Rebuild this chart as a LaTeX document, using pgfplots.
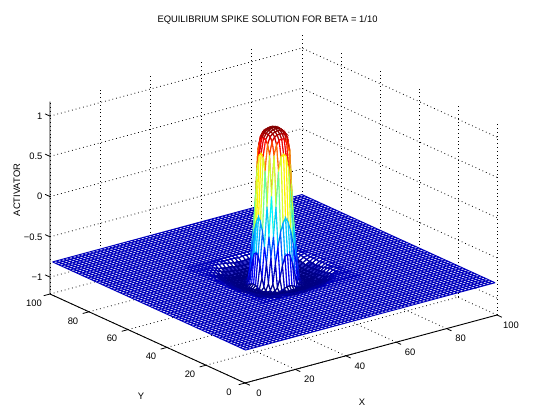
\documentclass[border=0pt]{standalone}
\usepackage{pgfplots}
\usepackage{pgfplotstable}
\pgfplotsset{compat=1.18}
\usepackage{fontspec}
\setmainfont{Liberation Sans}
\definecolor{planeblue}{rgb}{0,0,0.74}
\definecolor{dipfill}{rgb}{0.2,0.2,0.78}
\pgfplotstableread[header=false]{
70 70 -.82
68.5 70 -.82
67 70 -.82
65.5 70 -.82
64 70 -.82
62.5 70 -.82
61 70 -.82
59.5 70 -.82
58 70 -.82
56.5 70 -.82
55 70 -.82
53.5 70 -.82
52 70 -.82
50.5 70 -.82
49 70 -.82
47.5 70 -.82
46 70 -.82
44.5 70 -.82
43 70 -.82
41.5 70 -.82
40 70 -.82
38.5 70 -.82
37 70 -.82
35.5 70 -.82
34 70 -.82
32.5 70 -.82
31 70 -.82
70 68.5 -.82
68.5 68.5 -.82
67 68.5 -.82
65.5 68.5 -.82
64 68.5 -.82
62.5 68.5 -.82
61 68.5 -.82
59.5 68.5 -.82
58 68.5 -.82
56.5 68.5 -.83
55 68.5 -.83
53.5 68.5 -.83
52 68.5 -.83
50.5 68.5 -.84
49 68.5 -.83
47.5 68.5 -.83
46 68.5 -.83
44.5 68.5 -.83
43 68.5 -.82
41.5 68.5 -.82
40 68.5 -.82
38.5 68.5 -.82
37 68.5 -.82
35.5 68.5 -.82
34 68.5 -.82
32.5 68.5 -.82
31 68.5 -.82
70 67 -.82
68.5 67 -.82
67 67 -.82
65.5 67 -.82
64 67 -.82
62.5 67 -.82
61 67 -.82
59.5 67 -.83
58 67 -.83
56.5 67 -.84
55 67 -.85
53.5 67 -.86
52 67 -.86
50.5 67 -.87
49 67 -.86
47.5 67 -.86
46 67 -.85
44.5 67 -.84
43 67 -.83
41.5 67 -.83
40 67 -.82
38.5 67 -.82
37 67 -.82
35.5 67 -.82
34 67 -.82
32.5 67 -.82
31 67 -.82
70 65.5 -.82
68.5 65.5 -.82
67 65.5 -.82
65.5 65.5 -.82
64 65.5 -.82
62.5 65.5 -.83
61 65.5 -.85
59.5 65.5 -.86
58 65.5 -.87
56.5 65.5 -.87
55 65.5 -.88
53.5 65.5 -.89
52 65.5 -.89
50.5 65.5 -.90
49 65.5 -.89
47.5 65.5 -.89
46 65.5 -.88
44.5 65.5 -.87
43 65.5 -.87
41.5 65.5 -.86
40 65.5 -.85
38.5 65.5 -.83
37 65.5 -.82
35.5 65.5 -.82
34 65.5 -.82
32.5 65.5 -.82
31 65.5 -.82
70 64 -.82
68.5 64 -.82
67 64 -.82
65.5 64 -.82
64 64 -.83
62.5 64 -.85
61 64 -.87
59.5 64 -.89
58 64 -.90
56.5 64 -.90
55 64 -.91
53.5 64 -.92
52 64 -.92
50.5 64 -.92
49 64 -.92
47.5 64 -.92
46 64 -.91
44.5 64 -.90
43 64 -.90
41.5 64 -.89
40 64 -.87
38.5 64 -.85
37 64 -.83
35.5 64 -.82
34 64 -.82
32.5 64 -.82
31 64 -.82
70 62.5 -.82
68.5 62.5 -.82
67 62.5 -.82
65.5 62.5 -.83
64 62.5 -.85
62.5 62.5 -.88
61 62.5 -.90
59.5 62.5 -.92
58 62.5 -.93
56.5 62.5 -.92
55 62.5 -.93
53.5 62.5 -.93
52 62.5 -.93
50.5 62.5 -.93
49 62.5 -.93
47.5 62.5 -.93
46 62.5 -.93
44.5 62.5 -.92
43 62.5 -.93
41.5 62.5 -.92
40 62.5 -.90
38.5 62.5 -.88
37 62.5 -.85
35.5 62.5 -.83
34 62.5 -.82
32.5 62.5 -.82
31 62.5 -.82
70 61 -.82
68.5 61 -.82
67 61 -.83
65.5 61 -.85
64 61 -.87
62.5 61 -.90
61 61 -.92
59.5 61 -.93
58 61 -.93
56.5 61 -.93
55 61 -.94
53.5 61 -.94
52 61 -.94
50.5 61 -.94
49 61 -.94
47.5 61 -.94
46 61 -.94
44.5 61 -.93
43 61 -.93
41.5 61 -.93
40 61 -.92
38.5 61 -.90
37 61 -.87
35.5 61 -.85
34 61 -.83
32.5 61 -.82
31 61 -.82
70 59.5 -.82
68.5 59.5 -.82
67 59.5 -.83
65.5 59.5 -.86
64 59.5 -.89
62.5 59.5 -.92
61 59.5 -.93
59.5 59.5 -.93
58 59.5 -.93
56.5 59.5 -.94
55 59.5 -.94
53.5 59.5 -.94
52 59.5 -.94
50.5 59.5 -.94
49 59.5 -.94
47.5 59.5 -.94
46 59.5 -.94
44.5 59.5 -.94
43 59.5 -.93
41.5 59.5 -.93
40 59.5 -.93
38.5 59.5 -.92
37 59.5 -.89
35.5 59.5 -.86
34 59.5 -.83
32.5 59.5 -.82
31 59.5 -.82
70 58 -.82
68.5 58 -.82
67 58 -.83
65.5 58 -.87
64 58 -.90
62.5 58 -.93
61 58 -.93
59.5 58 -.93
58 58 -.94
56.5 58 -.94
55 58 -.94
53.5 58 -.94
52 58 -.94
50.5 58 -.94
49 58 -.94
47.5 58 -.94
46 58 -.94
44.5 58 -.94
43 58 -.94
41.5 58 -.93
40 58 -.93
38.5 58 -.93
37 58 -.90
35.5 58 -.87
34 58 -.83
32.5 58 -.82
31 58 -.82
70 56.5 -.82
68.5 56.5 -.83
67 56.5 -.84
65.5 56.5 -.87
64 56.5 -.90
62.5 56.5 -.92
61 56.5 -.93
59.5 56.5 -.94
58 56.5 -.94
56.5 56.5 -.94
55 56.5 -.94
53.5 56.5 -.94
52 56.5 -.94
50.5 56.5 -.94
49 56.5 -.94
47.5 56.5 -.94
46 56.5 -.94
44.5 56.5 -.94
43 56.5 -.94
41.5 56.5 -.94
40 56.5 -.93
38.5 56.5 -.92
37 56.5 -.90
35.5 56.5 -.87
34 56.5 -.84
32.5 56.5 -.83
31 56.5 -.82
70 55 -.82
68.5 55 -.83
67 55 -.85
65.5 55 -.88
64 55 -.91
62.5 55 -.93
61 55 -.94
59.5 55 -.94
58 55 -.94
56.5 55 -.94
55 55 -.94
53.5 55 -.94
52 55 -.94
50.5 55 -.94
49 55 -.94
47.5 55 -.94
46 55 -.94
44.5 55 -.94
43 55 -.94
41.5 55 -.94
40 55 -.94
38.5 55 -.93
37 55 -.91
35.5 55 -.88
34 55 -.85
32.5 55 -.83
31 55 -.82
70 53.5 -.82
68.5 53.5 -.83
67 53.5 -.86
65.5 53.5 -.89
64 53.5 -.92
62.5 53.5 -.93
61 53.5 -.94
59.5 53.5 -.94
58 53.5 -.94
56.5 53.5 -.94
55 53.5 -.94
53.5 53.5 -.94
52 53.5 -.94
50.5 53.5 -.94
49 53.5 -.94
47.5 53.5 -.94
46 53.5 -.94
44.5 53.5 -.94
43 53.5 -.94
41.5 53.5 -.94
40 53.5 -.94
38.5 53.5 -.93
37 53.5 -.92
35.5 53.5 -.89
34 53.5 -.86
32.5 53.5 -.83
31 53.5 -.82
70 52 -.82
68.5 52 -.83
67 52 -.86
65.5 52 -.89
64 52 -.92
62.5 52 -.93
61 52 -.94
59.5 52 -.94
58 52 -.94
56.5 52 -.94
55 52 -.94
53.5 52 -.94
52 52 -.94
50.5 52 -.94
49 52 -.94
47.5 52 -.94
46 52 -.94
44.5 52 -.94
43 52 -.94
41.5 52 -.94
40 52 -.94
38.5 52 -.93
37 52 -.92
35.5 52 -.89
34 52 -.86
32.5 52 -.83
31 52 -.82
70 50.5 -.82
68.5 50.5 -.84
67 50.5 -.87
65.5 50.5 -.90
64 50.5 -.92
62.5 50.5 -.93
61 50.5 -.94
59.5 50.5 -.94
58 50.5 -.94
56.5 50.5 -.94
55 50.5 -.94
53.5 50.5 -.94
52 50.5 -.94
50.5 50.5 -.94
49 50.5 -.94
47.5 50.5 -.94
46 50.5 -.94
44.5 50.5 -.94
43 50.5 -.94
41.5 50.5 -.94
40 50.5 -.94
38.5 50.5 -.93
37 50.5 -.92
35.5 50.5 -.90
34 50.5 -.87
32.5 50.5 -.84
31 50.5 -.82
70 49 -.82
68.5 49 -.83
67 49 -.86
65.5 49 -.89
64 49 -.92
62.5 49 -.93
61 49 -.94
59.5 49 -.94
58 49 -.94
56.5 49 -.94
55 49 -.94
53.5 49 -.94
52 49 -.94
50.5 49 -.94
49 49 -.94
47.5 49 -.94
46 49 -.94
44.5 49 -.94
43 49 -.94
41.5 49 -.94
40 49 -.94
38.5 49 -.93
37 49 -.92
35.5 49 -.89
34 49 -.86
32.5 49 -.83
31 49 -.82
70 47.5 -.82
68.5 47.5 -.83
67 47.5 -.86
65.5 47.5 -.89
64 47.5 -.92
62.5 47.5 -.93
61 47.5 -.94
59.5 47.5 -.94
58 47.5 -.94
56.5 47.5 -.94
55 47.5 -.94
53.5 47.5 -.94
52 47.5 -.94
50.5 47.5 -.94
49 47.5 -.94
47.5 47.5 -.94
46 47.5 -.94
44.5 47.5 -.94
43 47.5 -.94
41.5 47.5 -.94
40 47.5 -.94
38.5 47.5 -.93
37 47.5 -.92
35.5 47.5 -.89
34 47.5 -.86
32.5 47.5 -.83
31 47.5 -.82
70 46 -.82
68.5 46 -.83
67 46 -.85
65.5 46 -.88
64 46 -.91
62.5 46 -.93
61 46 -.94
59.5 46 -.94
58 46 -.94
56.5 46 -.94
55 46 -.94
53.5 46 -.94
52 46 -.94
50.5 46 -.94
49 46 -.94
47.5 46 -.94
46 46 -.94
44.5 46 -.94
43 46 -.94
41.5 46 -.94
40 46 -.94
38.5 46 -.93
37 46 -.91
35.5 46 -.88
34 46 -.85
32.5 46 -.83
31 46 -.82
70 44.5 -.82
68.5 44.5 -.83
67 44.5 -.84
65.5 44.5 -.87
64 44.5 -.90
62.5 44.5 -.92
61 44.5 -.93
59.5 44.5 -.94
58 44.5 -.94
56.5 44.5 -.94
55 44.5 -.94
53.5 44.5 -.94
52 44.5 -.94
50.5 44.5 -.94
49 44.5 -.94
47.5 44.5 -.94
46 44.5 -.94
44.5 44.5 -.94
43 44.5 -.94
41.5 44.5 -.94
40 44.5 -.93
38.5 44.5 -.92
37 44.5 -.90
35.5 44.5 -.87
34 44.5 -.84
32.5 44.5 -.83
31 44.5 -.82
70 43 -.82
68.5 43 -.82
67 43 -.83
65.5 43 -.87
64 43 -.90
62.5 43 -.93
61 43 -.93
59.5 43 -.93
58 43 -.94
56.5 43 -.94
55 43 -.94
53.5 43 -.94
52 43 -.94
50.5 43 -.94
49 43 -.94
47.5 43 -.94
46 43 -.94
44.5 43 -.94
43 43 -.94
41.5 43 -.93
40 43 -.93
38.5 43 -.93
37 43 -.90
35.5 43 -.87
34 43 -.83
32.5 43 -.82
31 43 -.82
70 41.5 -.82
68.5 41.5 -.82
67 41.5 -.83
65.5 41.5 -.86
64 41.5 -.89
62.5 41.5 -.92
61 41.5 -.93
59.5 41.5 -.93
58 41.5 -.93
56.5 41.5 -.94
55 41.5 -.94
53.5 41.5 -.94
52 41.5 -.94
50.5 41.5 -.94
49 41.5 -.94
47.5 41.5 -.94
46 41.5 -.94
44.5 41.5 -.94
43 41.5 -.93
41.5 41.5 -.93
40 41.5 -.93
38.5 41.5 -.92
37 41.5 -.89
35.5 41.5 -.86
34 41.5 -.83
32.5 41.5 -.82
31 41.5 -.82
70 40 -.82
68.5 40 -.82
67 40 -.83
65.5 40 -.85
64 40 -.87
62.5 40 -.90
61 40 -.92
59.5 40 -.93
58 40 -.93
56.5 40 -.93
55 40 -.94
53.5 40 -.94
52 40 -.94
50.5 40 -.94
49 40 -.94
47.5 40 -.94
46 40 -.94
44.5 40 -.93
43 40 -.93
41.5 40 -.93
40 40 -.92
38.5 40 -.90
37 40 -.87
35.5 40 -.85
34 40 -.83
32.5 40 -.82
31 40 -.82
70 38.5 -.82
68.5 38.5 -.82
67 38.5 -.82
65.5 38.5 -.83
64 38.5 -.85
62.5 38.5 -.88
61 38.5 -.90
59.5 38.5 -.92
58 38.5 -.93
56.5 38.5 -.92
55 38.5 -.93
53.5 38.5 -.93
52 38.5 -.93
50.5 38.5 -.93
49 38.5 -.93
47.5 38.5 -.93
46 38.5 -.93
44.5 38.5 -.92
43 38.5 -.93
41.5 38.5 -.92
40 38.5 -.90
38.5 38.5 -.88
37 38.5 -.85
35.5 38.5 -.83
34 38.5 -.82
32.5 38.5 -.82
31 38.5 -.82
70 37 -.82
68.5 37 -.82
67 37 -.82
65.5 37 -.82
64 37 -.83
62.5 37 -.85
61 37 -.87
59.5 37 -.89
58 37 -.90
56.5 37 -.90
55 37 -.91
53.5 37 -.92
52 37 -.92
50.5 37 -.92
49 37 -.92
47.5 37 -.92
46 37 -.91
44.5 37 -.90
43 37 -.90
41.5 37 -.89
40 37 -.87
38.5 37 -.85
37 37 -.83
35.5 37 -.82
34 37 -.82
32.5 37 -.82
31 37 -.82
70 35.5 -.82
68.5 35.5 -.82
67 35.5 -.82
65.5 35.5 -.82
64 35.5 -.82
62.5 35.5 -.83
61 35.5 -.85
59.5 35.5 -.86
58 35.5 -.87
56.5 35.5 -.87
55 35.5 -.88
53.5 35.5 -.89
52 35.5 -.89
50.5 35.5 -.90
49 35.5 -.89
47.5 35.5 -.89
46 35.5 -.88
44.5 35.5 -.87
43 35.5 -.87
41.5 35.5 -.86
40 35.5 -.85
38.5 35.5 -.83
37 35.5 -.82
35.5 35.5 -.82
34 35.5 -.82
32.5 35.5 -.82
31 35.5 -.82
70 34 -.82
68.5 34 -.82
67 34 -.82
65.5 34 -.82
64 34 -.82
62.5 34 -.82
61 34 -.83
59.5 34 -.83
58 34 -.83
56.5 34 -.84
55 34 -.85
53.5 34 -.86
52 34 -.86
50.5 34 -.87
49 34 -.86
47.5 34 -.86
46 34 -.85
44.5 34 -.84
43 34 -.83
41.5 34 -.83
40 34 -.83
38.5 34 -.82
37 34 -.82
35.5 34 -.82
34 34 -.82
32.5 34 -.82
31 34 -.82
70 32.5 -.82
68.5 32.5 -.82
67 32.5 -.82
65.5 32.5 -.82
64 32.5 -.82
62.5 32.5 -.82
61 32.5 -.82
59.5 32.5 -.82
58 32.5 -.82
56.5 32.5 -.83
55 32.5 -.83
53.5 32.5 -.83
52 32.5 -.83
50.5 32.5 -.84
49 32.5 -.83
47.5 32.5 -.83
46 32.5 -.83
44.5 32.5 -.83
43 32.5 -.82
41.5 32.5 -.82
40 32.5 -.82
38.5 32.5 -.82
37 32.5 -.82
35.5 32.5 -.82
34 32.5 -.82
32.5 32.5 -.82
31 32.5 -.82
70 31 -.82
68.5 31 -.82
67 31 -.82
65.5 31 -.82
64 31 -.82
62.5 31 -.82
61 31 -.82
59.5 31 -.82
58 31 -.82
56.5 31 -.82
55 31 -.82
53.5 31 -.82
52 31 -.82
50.5 31 -.82
49 31 -.82
47.5 31 -.82
46 31 -.82
44.5 31 -.82
43 31 -.82
41.5 31 -.82
40 31 -.82
38.5 31 -.82
37 31 -.82
35.5 31 -.82
34 31 -.82
32.5 31 -.82
31 31 -.82
}\diptable
\begin{document}
\begin{tikzpicture}[x=1pt,y=1pt,font=\fontsize{9.4}{11}\selectfont]
\path[use as bounding box] (0,0) rectangle (533,413);
\begin{axis}[
  at={(245pt,127.4pt)},anchor=origin,
  x={(2.52pt,0.68pt)},y={(-1.95pt,0.89pt)},z={(0pt,80.5pt)},
  xmin=0,xmax=100,ymin=0,ymax=100,zmin=-1.21,zmax=1.18,
  clip=false,
  xtick={0,20,40,60,80,100},ytick={0,20,40,60,80,100},ztick={-1,-0.5,0,0.5,1},
  zticklabels={−1,−0.5,0,0.5,1},
  /pgf/number format/assume math mode=true,
  grid=major,
  grid style={black,line width=0.8pt,dash pattern=on 0.8pt off 3pt},
  axis line style={draw=none},
  major tick length=0pt,
  xticklabel style={anchor=center,xshift=14pt,yshift=-10pt},
  yticklabel style={anchor=center,xshift=-16pt,yshift=-9pt},
  zticklabel style={anchor=east,xshift=-4pt},
  point meta min=-0.935,point meta max=0.98,
  colormap/jet,
]
\addplot3[fill=white,draw=none,forget plot] coordinates {(1,1,-.82)(100,1,-.82)(100,100,-.82)(1,100,-.82)(1,1,-.82)};
\addplot3[planeblue,line width=1pt,empty line=jump,forget plot] table {
1 1 -.82
100 1 -.82

1 2.5 -.82
100 2.5 -.82

1 4 -.82
100 4 -.82

1 5.5 -.82
100 5.5 -.82

1 7 -.82
100 7 -.82

1 8.5 -.82
100 8.5 -.82

1 10 -.82
100 10 -.82

1 11.5 -.82
100 11.5 -.82

1 13 -.82
100 13 -.82

1 14.5 -.82
100 14.5 -.82

1 16 -.82
100 16 -.82

1 17.5 -.82
100 17.5 -.82

1 19 -.82
100 19 -.82

1 20.5 -.82
100 20.5 -.82

1 22 -.82
100 22 -.82

1 23.5 -.82
100 23.5 -.82

1 25 -.82
100 25 -.82

1 26.5 -.82
100 26.5 -.82

1 28 -.82
100 28 -.82

1 29.5 -.82
100 29.5 -.82

1 31 -.82
100 31 -.82

1 32.5 -.82
100 32.5 -.82

1 34 -.82
100 34 -.82

1 35.5 -.82
100 35.5 -.82

1 37 -.82
100 37 -.82

1 38.5 -.82
100 38.5 -.82

1 40 -.82
100 40 -.82

1 41.5 -.82
100 41.5 -.82

1 43 -.82
100 43 -.82

1 44.5 -.82
100 44.5 -.82

1 46 -.82
100 46 -.82

1 47.5 -.82
100 47.5 -.82

1 49 -.82
100 49 -.82

1 50.5 -.82
100 50.5 -.82

1 52 -.82
100 52 -.82

1 53.5 -.82
100 53.5 -.82

1 55 -.82
100 55 -.82

1 56.5 -.82
100 56.5 -.82

1 58 -.82
100 58 -.82

1 59.5 -.82
100 59.5 -.82

1 61 -.82
100 61 -.82

1 62.5 -.82
100 62.5 -.82

1 64 -.82
100 64 -.82

1 65.5 -.82
100 65.5 -.82

1 67 -.82
100 67 -.82

1 68.5 -.82
100 68.5 -.82

1 70 -.82
100 70 -.82

1 71.5 -.82
100 71.5 -.82

1 73 -.82
100 73 -.82

1 74.5 -.82
100 74.5 -.82

1 76 -.82
100 76 -.82

1 77.5 -.82
100 77.5 -.82

1 79 -.82
100 79 -.82

1 80.5 -.82
100 80.5 -.82

1 82 -.82
100 82 -.82

1 83.5 -.82
100 83.5 -.82

1 85 -.82
100 85 -.82

1 86.5 -.82
100 86.5 -.82

1 88 -.82
100 88 -.82

1 89.5 -.82
100 89.5 -.82

1 91 -.82
100 91 -.82

1 92.5 -.82
100 92.5 -.82

1 94 -.82
100 94 -.82

1 95.5 -.82
100 95.5 -.82

1 97 -.82
100 97 -.82

1 98.5 -.82
100 98.5 -.82

1 100 -.82
100 100 -.82

1 1 -.82
1 100 -.82

2.5 1 -.82
2.5 100 -.82

4 1 -.82
4 100 -.82

5.5 1 -.82
5.5 100 -.82

7 1 -.82
7 100 -.82

8.5 1 -.82
8.5 100 -.82

10 1 -.82
10 100 -.82

11.5 1 -.82
11.5 100 -.82

13 1 -.82
13 100 -.82

14.5 1 -.82
14.5 100 -.82

16 1 -.82
16 100 -.82

17.5 1 -.82
17.5 100 -.82

19 1 -.82
19 100 -.82

20.5 1 -.82
20.5 100 -.82

22 1 -.82
22 100 -.82

23.5 1 -.82
23.5 100 -.82

25 1 -.82
25 100 -.82

26.5 1 -.82
26.5 100 -.82

28 1 -.82
28 100 -.82

29.5 1 -.82
29.5 100 -.82

31 1 -.82
31 100 -.82

32.5 1 -.82
32.5 100 -.82

34 1 -.82
34 100 -.82

35.5 1 -.82
35.5 100 -.82

37 1 -.82
37 100 -.82

38.5 1 -.82
38.5 100 -.82

40 1 -.82
40 100 -.82

41.5 1 -.82
41.5 100 -.82

43 1 -.82
43 100 -.82

44.5 1 -.82
44.5 100 -.82

46 1 -.82
46 100 -.82

47.5 1 -.82
47.5 100 -.82

49 1 -.82
49 100 -.82

50.5 1 -.82
50.5 100 -.82

52 1 -.82
52 100 -.82

53.5 1 -.82
53.5 100 -.82

55 1 -.82
55 100 -.82

56.5 1 -.82
56.5 100 -.82

58 1 -.82
58 100 -.82

59.5 1 -.82
59.5 100 -.82

61 1 -.82
61 100 -.82

62.5 1 -.82
62.5 100 -.82

64 1 -.82
64 100 -.82

65.5 1 -.82
65.5 100 -.82

67 1 -.82
67 100 -.82

68.5 1 -.82
68.5 100 -.82

70 1 -.82
70 100 -.82

71.5 1 -.82
71.5 100 -.82

73 1 -.82
73 100 -.82

74.5 1 -.82
74.5 100 -.82

76 1 -.82
76 100 -.82

77.5 1 -.82
77.5 100 -.82

79 1 -.82
79 100 -.82

80.5 1 -.82
80.5 100 -.82

82 1 -.82
82 100 -.82

83.5 1 -.82
83.5 100 -.82

85 1 -.82
85 100 -.82

86.5 1 -.82
86.5 100 -.82

88 1 -.82
88 100 -.82

89.5 1 -.82
89.5 100 -.82

91 1 -.82
91 100 -.82

92.5 1 -.82
92.5 100 -.82

94 1 -.82
94 100 -.82

95.5 1 -.82
95.5 100 -.82

97 1 -.82
97 100 -.82

98.5 1 -.82
98.5 100 -.82

100 1 -.82
100 100 -.82
};
\addplot3[surf,shader=faceted,fill=white,faceted color=mapped color,z buffer=none,line width=1.15pt,mesh/cols=27,forget plot] table[x index=0,y index=1,z index=2] {\diptable};
\addplot3[surf,shader=faceted,fill=dipfill,faceted color=mapped color,z buffer=none,line width=1.5pt,mesh/cols=27,unbounded coords=jump,restrict z to domain=-1:-0.855,forget plot] table[x index=0,y index=1,z index=2] {\diptable};
\addplot3[surf,shader=faceted,fill=white,faceted color=mapped color,z buffer=none,line width=1.1pt,mesh/cols=19,unbounded coords=jump,forget plot] table {
59.5 59.5 nan
58.5 59.5 nan
57.5 59.5 nan
56.5 59.5 nan
55.5 59.5 nan
54.5 59.5 nan
53.5 59.5 nan
52.5 59.5 -.94
51.5 59.5 -.94
50.5 59.5 -.94
49.5 59.5 -.94
48.5 59.5 -.94
47.5 59.5 nan
46.5 59.5 nan
45.5 59.5 nan
44.5 59.5 nan
43.5 59.5 nan
42.5 59.5 nan
41.5 59.5 nan
59.5 58.5 nan
58.5 58.5 nan
57.5 58.5 nan
56.5 58.5 nan
55.5 58.5 -.94
54.5 58.5 -.94
53.5 58.5 -.93
52.5 58.5 -.92
51.5 58.5 -.905
50.5 58.5 -.90
49.5 58.5 -.905
48.5 58.5 -.92
47.5 58.5 -.93
46.5 58.5 -.94
45.5 58.5 -.94
44.5 58.5 nan
43.5 58.5 nan
42.5 58.5 nan
41.5 58.5 nan
59.5 57.5 nan
58.5 57.5 nan
57.5 57.5 nan
56.5 57.5 -.94
55.5 57.5 -.935
54.5 57.5 -.905
53.5 57.5 -.80
52.5 57.5 -.65
51.5 57.5 -.54
50.5 57.5 -.52
49.5 57.5 -.54
48.5 57.5 -.65
47.5 57.5 -.80
46.5 57.5 -.905
45.5 57.5 -.935
44.5 57.5 -.94
43.5 57.5 nan
42.5 57.5 nan
41.5 57.5 nan
59.5 56.5 nan
58.5 56.5 nan
57.5 56.5 -.94
56.5 56.5 -.93
55.5 56.5 -.86
54.5 56.5 -.62
53.5 56.5 -.42
52.5 56.5 -.25
51.5 56.5 -.14
50.5 56.5 -.08
49.5 56.5 -.14
48.5 56.5 -.25
47.5 56.5 -.42
46.5 56.5 -.62
45.5 56.5 -.86
44.5 56.5 -.93
43.5 56.5 -.94
42.5 56.5 nan
41.5 56.5 nan
59.5 55.5 nan
58.5 55.5 -.94
57.5 55.5 -.935
56.5 55.5 -.86
55.5 55.5 -.54
54.5 55.5 -.29
53.5 55.5 .07
52.5 55.5 .50
51.5 55.5 .67
50.5 55.5 .70
49.5 55.5 .67
48.5 55.5 .50
47.5 55.5 .07
46.5 55.5 -.29
45.5 55.5 -.54
44.5 55.5 -.86
43.5 55.5 -.935
42.5 55.5 -.94
41.5 55.5 nan
59.5 54.5 nan
58.5 54.5 -.94
57.5 54.5 -.905
56.5 54.5 -.62
55.5 54.5 -.29
54.5 54.5 .20
53.5 54.5 .70
52.5 54.5 .82
51.5 54.5 .87
50.5 54.5 .88
49.5 54.5 .87
48.5 54.5 .82
47.5 54.5 .70
46.5 54.5 .20
45.5 54.5 -.29
44.5 54.5 -.62
43.5 54.5 -.905
42.5 54.5 -.94
41.5 54.5 nan
59.5 53.5 nan
58.5 53.5 -.93
57.5 53.5 -.80
56.5 53.5 -.42
55.5 53.5 .07
54.5 53.5 .70
53.5 53.5 .86
52.5 53.5 .91
51.5 53.5 .925
50.5 53.5 .93
49.5 53.5 .925
48.5 53.5 .91
47.5 53.5 .86
46.5 53.5 .70
45.5 53.5 .07
44.5 53.5 -.42
43.5 53.5 -.80
42.5 53.5 -.93
41.5 53.5 nan
59.5 52.5 -.94
58.5 52.5 -.92
57.5 52.5 -.65
56.5 52.5 -.25
55.5 52.5 .50
54.5 52.5 .82
53.5 52.5 .91
52.5 52.5 .94
51.5 52.5 .955
50.5 52.5 .96
49.5 52.5 .955
48.5 52.5 .94
47.5 52.5 .91
46.5 52.5 .82
45.5 52.5 .50
44.5 52.5 -.25
43.5 52.5 -.65
42.5 52.5 -.92
41.5 52.5 -.94
59.5 51.5 -.94
58.5 51.5 -.905
57.5 51.5 -.54
56.5 51.5 -.14
55.5 51.5 .67
54.5 51.5 .87
53.5 51.5 .925
52.5 51.5 .955
51.5 51.5 .97
50.5 51.5 .975
49.5 51.5 .97
48.5 51.5 .955
47.5 51.5 .925
46.5 51.5 .87
45.5 51.5 .67
44.5 51.5 -.14
43.5 51.5 -.54
42.5 51.5 -.905
41.5 51.5 -.94
59.5 50.5 -.94
58.5 50.5 -.90
57.5 50.5 -.52
56.5 50.5 -.08
55.5 50.5 .70
54.5 50.5 .88
53.5 50.5 .93
52.5 50.5 .96
51.5 50.5 .975
50.5 50.5 .98
49.5 50.5 .975
48.5 50.5 .96
47.5 50.5 .93
46.5 50.5 .88
45.5 50.5 .70
44.5 50.5 -.08
43.5 50.5 -.52
42.5 50.5 -.90
41.5 50.5 -.94
59.5 49.5 -.94
58.5 49.5 -.905
57.5 49.5 -.54
56.5 49.5 -.14
55.5 49.5 .67
54.5 49.5 .87
53.5 49.5 .925
52.5 49.5 .955
51.5 49.5 .97
50.5 49.5 .975
49.5 49.5 .97
48.5 49.5 .955
47.5 49.5 .925
46.5 49.5 .87
45.5 49.5 .67
44.5 49.5 -.14
43.5 49.5 -.54
42.5 49.5 -.905
41.5 49.5 -.94
59.5 48.5 -.94
58.5 48.5 -.92
57.5 48.5 -.65
56.5 48.5 -.25
55.5 48.5 .50
54.5 48.5 .82
53.5 48.5 .91
52.5 48.5 .94
51.5 48.5 .955
50.5 48.5 .96
49.5 48.5 .955
48.5 48.5 .94
47.5 48.5 .91
46.5 48.5 .82
45.5 48.5 .50
44.5 48.5 -.25
43.5 48.5 -.65
42.5 48.5 -.92
41.5 48.5 -.94
59.5 47.5 nan
58.5 47.5 -.93
57.5 47.5 -.80
56.5 47.5 -.42
55.5 47.5 .07
54.5 47.5 .70
53.5 47.5 .86
52.5 47.5 .91
51.5 47.5 .925
50.5 47.5 .93
49.5 47.5 .925
48.5 47.5 .91
47.5 47.5 .86
46.5 47.5 .70
45.5 47.5 .07
44.5 47.5 -.42
43.5 47.5 -.80
42.5 47.5 -.93
41.5 47.5 nan
59.5 46.5 nan
58.5 46.5 -.94
57.5 46.5 -.905
56.5 46.5 -.62
55.5 46.5 -.29
54.5 46.5 .20
53.5 46.5 .70
52.5 46.5 .82
51.5 46.5 .87
50.5 46.5 .88
49.5 46.5 .87
48.5 46.5 .82
47.5 46.5 .70
46.5 46.5 .20
45.5 46.5 -.29
44.5 46.5 -.62
43.5 46.5 -.905
42.5 46.5 -.94
41.5 46.5 nan
59.5 45.5 nan
58.5 45.5 -.94
57.5 45.5 -.935
56.5 45.5 -.86
55.5 45.5 -.54
54.5 45.5 -.29
53.5 45.5 .07
52.5 45.5 .50
51.5 45.5 .67
50.5 45.5 .70
49.5 45.5 .67
48.5 45.5 .50
47.5 45.5 .07
46.5 45.5 -.29
45.5 45.5 -.54
44.5 45.5 -.86
43.5 45.5 -.935
42.5 45.5 -.94
41.5 45.5 nan
59.5 44.5 nan
58.5 44.5 nan
57.5 44.5 -.94
56.5 44.5 -.93
55.5 44.5 -.86
54.5 44.5 -.62
53.5 44.5 -.42
52.5 44.5 -.25
51.5 44.5 -.14
50.5 44.5 -.08
49.5 44.5 -.14
48.5 44.5 -.25
47.5 44.5 -.42
46.5 44.5 -.62
45.5 44.5 -.86
44.5 44.5 -.93
43.5 44.5 -.94
42.5 44.5 nan
41.5 44.5 nan
59.5 43.5 nan
58.5 43.5 nan
57.5 43.5 nan
56.5 43.5 -.94
55.5 43.5 -.935
54.5 43.5 -.905
53.5 43.5 -.80
52.5 43.5 -.65
51.5 43.5 -.54
50.5 43.5 -.52
49.5 43.5 -.54
48.5 43.5 -.65
47.5 43.5 -.80
46.5 43.5 -.905
45.5 43.5 -.935
44.5 43.5 -.94
43.5 43.5 nan
42.5 43.5 nan
41.5 43.5 nan
59.5 42.5 nan
58.5 42.5 nan
57.5 42.5 nan
56.5 42.5 nan
55.5 42.5 -.94
54.5 42.5 -.94
53.5 42.5 -.93
52.5 42.5 -.92
51.5 42.5 -.905
50.5 42.5 -.90
49.5 42.5 -.905
48.5 42.5 -.92
47.5 42.5 -.93
46.5 42.5 -.94
45.5 42.5 -.94
44.5 42.5 nan
43.5 42.5 nan
42.5 42.5 nan
41.5 42.5 nan
59.5 41.5 nan
58.5 41.5 nan
57.5 41.5 nan
56.5 41.5 nan
55.5 41.5 nan
54.5 41.5 nan
53.5 41.5 nan
52.5 41.5 -.94
51.5 41.5 -.94
50.5 41.5 -.94
49.5 41.5 -.94
48.5 41.5 -.94
47.5 41.5 nan
46.5 41.5 nan
45.5 41.5 nan
44.5 41.5 nan
43.5 41.5 nan
42.5 41.5 nan
41.5 41.5 nan
};
\addplot3[black,line width=0.9pt,forget plot] coordinates {(100,0,-1.21)(0,0,-1.21)(0,100,-1.21)(0,100,1.18)};
\addplot3[black,line width=0.8pt,empty line=jump,forget plot] table {
0 0 -1.21
0 -2.5 -1.21

20 0 -1.21
20 -2.5 -1.21

40 0 -1.21
40 -2.5 -1.21

60 0 -1.21
60 -2.5 -1.21

80 0 -1.21
80 -2.5 -1.21

100 0 -1.21
100 -2.5 -1.21

0 0 -1.21
-2.5 0 -1.21

0 20 -1.21
-2.5 20 -1.21

0 40 -1.21
-2.5 40 -1.21

0 60 -1.21
-2.5 60 -1.21

0 80 -1.21
-2.5 80 -1.21

0 100 -1.21
-2.5 100 -1.21

0 100 -1
0 102.5 -1

0 100 -.5
0 102.5 -.5

0 100 0
0 102.5 0

0 100 .5
0 102.5 .5

0 100 1
0 102.5 1
};
\end{axis}
\node at (267.5,393) {EQUILIBRIUM SPIKE SOLUTION FOR BETA = 1/10};
\node at (362,11) {X};
\node at (141,17) {Y};
\node[rotate=90] at (17,223) {ACTIVATOR};
\end{tikzpicture}
\end{document}
